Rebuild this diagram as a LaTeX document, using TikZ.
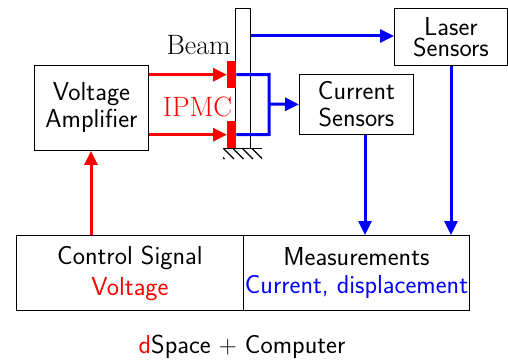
\documentclass[tikz,border=0pt]{standalone}
\usetikzlibrary{arrows.meta,calc}
\begin{document}
\begin{tikzpicture}[x=1pt,y=-1pt,
  lbl/.style={font=\sffamily\fontsize{26}{27}\selectfont,align=center,text=black},
  boxn/.style={draw,line width=0.9pt,lbl,inner sep=0pt,anchor=north west},
  redw/.style={red,line width=3pt,-{Triangle[length=14pt,width=13pt]}},
  bluew/.style={blue,line width=3pt,-{Triangle[length=14pt,width=13pt]}},
  bluel/.style={blue,line width=3pt},
  patch/.style={fill=red,draw=none,inner sep=0pt,minimum width=9pt,minimum height=27pt,anchor=north west}]
\useasboundingbox (0,0) rectangle (508,361);
\begin{scope}
\clip (223,148) rectangle (262,159);
\foreach \x in {213.5,223,232.5,242,251.5} \draw[line width=1.2pt] (\x,148) -- (\x+11,159);
\end{scope}
\node[boxn,minimum width=15pt,minimum height=140pt] (beam) at (235,8) {};
\coordinate (g1) at (223,148);
\coordinate (g2) at (262,148);
\draw[line width=0.9pt] (g1) -- (g2);
\node[patch] (pt) at (227,61) {};
\node[patch] (pb) at (227,121) {};
\node[boxn,minimum width=114pt,minimum height=85pt] (amp) at (34,65) {Voltage\\Amplifier};
\node[boxn,minimum width=114pt,minimum height=60pt] (cur) at (299,74) {Current\\Sensors};
\node[boxn,minimum width=113pt,minimum height=57pt] (las) at (394,8) {Laser\\[-6pt]Sensors};
\node[boxn,minimum width=227pt,minimum height=75pt] (ctl) at (16,235) {Control Signal\\[4pt]\textcolor{red}{Voltage}};
\node[boxn,minimum width=226pt,minimum height=75pt] (mea) at (243,235) {Measurements\\[1pt]\textcolor{blue}{Current, displacement}};
\node[font=\rmfamily\fontsize{28}{30}\selectfont,anchor=east,inner sep=0pt] (bl) at (231,45) {Beam};
\node[font=\rmfamily\fontsize{28}{30}\selectfont,text=red,inner sep=0pt] (ip) at (197.5,107) {IPMC};
\node[lbl,inner sep=0pt] (ds) at (242,347) {\textcolor{red}{d}Space $+$ Computer};
\draw[redw] (amp.east |- pt.west) -- (pt.west);
\draw[redw] (amp.east |- pb.west) -- (pb.west);
\draw[redw] (ctl.north -| 91,0) -- (amp.south -| 91,0);
\coordinate (j) at (269,104);
\draw[bluel] (pt.east) -- (269,74.5) -- (269,134.5) -- (pb.east);
\draw[bluew] (j) -- (cur.west);
\draw[bluew] (beam.east |- 0,36) -- (las.west |- 0,36);
\draw[bluew] (cur.south -| 365,0) -- (ctl.north -| 365,0);
\draw[bluew] (las.south -| 451,0) -- (ctl.north -| 451,0);
\end{tikzpicture}
\end{document}
